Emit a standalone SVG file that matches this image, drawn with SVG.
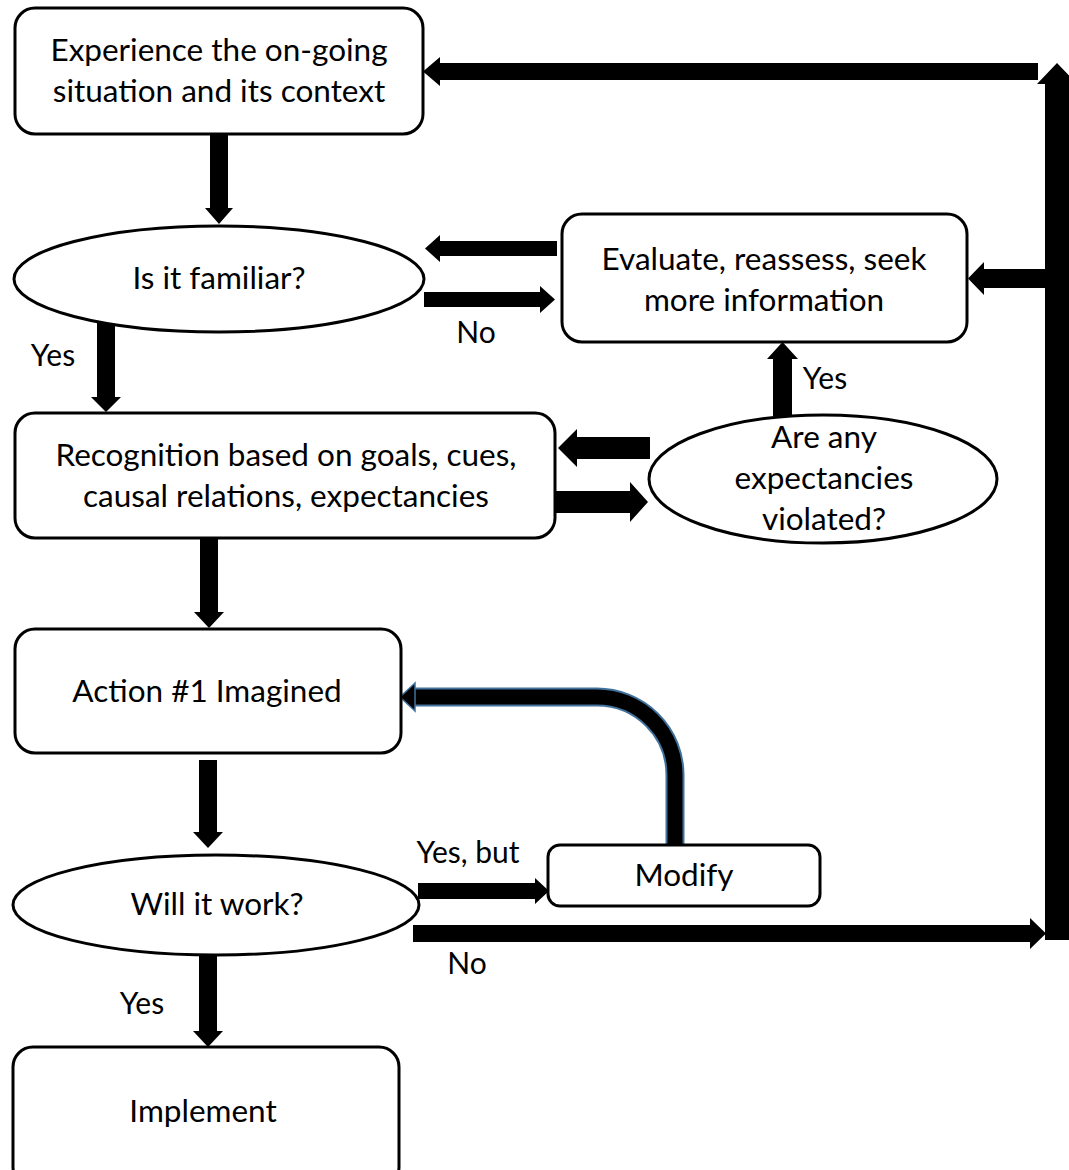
<svg xmlns="http://www.w3.org/2000/svg" width="1069" height="1170" viewBox="0 0 1069 1170">
<style>
.box{fill:#fff;stroke:#000;stroke-width:3}
.t{font-family:Lato,"Open Sans","Liberation Sans",sans-serif;font-size:31.5px;fill:#000;text-anchor:middle}
.lbl{font-family:Lato,"Open Sans","Liberation Sans",sans-serif;font-size:30px;fill:#000;text-anchor:middle}
.arr{fill:#000}
</style>
<rect width="1069" height="1170" fill="#fff"/>
<g id="connectors">
<polygon class="arr" points="210,134 228,134 228,208 233,208 219,224 205,208 210,208"/>
<polygon class="arr" points="557,241 440,241 440,235 425,248.5 440,262 440,256 557,256"/>
<polygon class="arr" points="424,292 540,292 540,286 555,299.5 540,313 540,307 424,307"/>
<polygon class="arr" points="97,322 115,322 115,397 121,397 106,412 91,397 97,397"/>
<polygon class="arr" points="773,416 792,416 792,359 798,359 782.5,342 767,359 773,359"/>
<polygon class="arr" points="650,437 577,437 577,429 558,448 577,467 577,459 650,459"/>
<polygon class="arr" points="556,491 630,491 630,482 648,502 630,522 630,513 556,513"/>
<polygon class="arr" points="200,538 218,538 218,612 224,612 209,628 194,612 200,612"/>
<polygon class="arr" points="199,760 217,760 217,832 223,832 208,848 193,832 199,832"/>
<polygon class="arr" points="418,883 535,883 535,878 549,891 535,904 535,899 418,899"/>
<polygon class="arr" points="413,925 1030,925 1030,918 1046,933.5 1030,949 1030,942 413,942"/>
<polygon class="arr" points="199,955 217,955 217,1031 223,1031 208,1047 193,1031 199,1031"/>
<polygon class="arr" points="1045,940 1045,84 1037,84 1057,63 1077,84 1069,84 1069,940"/>
<polygon class="arr" points="1038,63 440,63 440,57 423,71.5 440,86 440,80 1038,80"/>
<polygon class="arr" points="1045,269 984,269 984,262 968,278.5 984,295 984,288 1045,288"/>
<path d="M675,845 V775 A78,78 0 0 0 597,697 H412" fill="none" stroke="#41719C" stroke-width="19"/>
<path d="M675,846 V775 A78,78 0 0 0 597,697 H412" fill="none" stroke="#000" stroke-width="15"/>
<polygon points="415,683 400,697 415,711" fill="#000" stroke="#41719C" stroke-width="1.5"/>
</g>
<g id="experience">
<rect class="box" x="15" y="8" width="408" height="126" rx="20"/>
<text class="t" x="219" y="61">Experience the on-going</text>
<text class="t" x="219" y="102">situation and its context</text>
</g>
<g id="familiar">
<ellipse class="box" cx="219" cy="279" rx="205" ry="53"/>
<text class="t" x="219" y="289">Is it familiar?</text>
</g>
<g id="evaluate">
<rect class="box" x="562" y="214" width="405" height="128" rx="20"/>
<text class="t" x="764" y="270">Evaluate, reassess, seek</text>
<text class="t" x="764" y="311">more information</text>
</g>
<g id="recognition">
<rect class="box" x="15" y="413" width="540" height="125" rx="20"/>
<text class="t" x="286" y="466">Recognition based on goals, cues,</text>
<text class="t" x="286" y="507">causal relations, expectancies</text>
</g>
<g id="expectancies">
<ellipse class="box" cx="823" cy="479" rx="174" ry="64"/>
<text class="t" x="824" y="448">Are any</text>
<text class="t" x="824" y="489">expectancies</text>
<text class="t" x="824" y="530">violated?</text>
</g>
<g id="action">
<rect class="box" x="15" y="629" width="386" height="124" rx="20"/>
<text class="t" x="207" y="702">Action #1 Imagined</text>
</g>
<g id="work">
<ellipse class="box" cx="216" cy="905" rx="203" ry="50"/>
<text class="t" x="217" y="915">Will it work?</text>
</g>
<g id="modify">
<rect class="box" x="548" y="845" width="272" height="61" rx="12"/>
<text class="t" x="684" y="886">Modify</text>
</g>
<g id="implement">
<rect class="box" x="13" y="1047" width="386" height="140" rx="20"/>
<text class="t" x="203" y="1122">Implement</text>
</g>
<g id="labels">
<text class="lbl" x="476" y="343">No</text>
<text class="lbl" x="53" y="366">Yes</text>
<text class="lbl" x="825" y="389">Yes</text>
<text class="lbl" x="468" y="863">Yes, but</text>
<text class="lbl" x="467" y="974">No</text>
<text class="lbl" x="142" y="1014">Yes</text>
</g>
</svg>
